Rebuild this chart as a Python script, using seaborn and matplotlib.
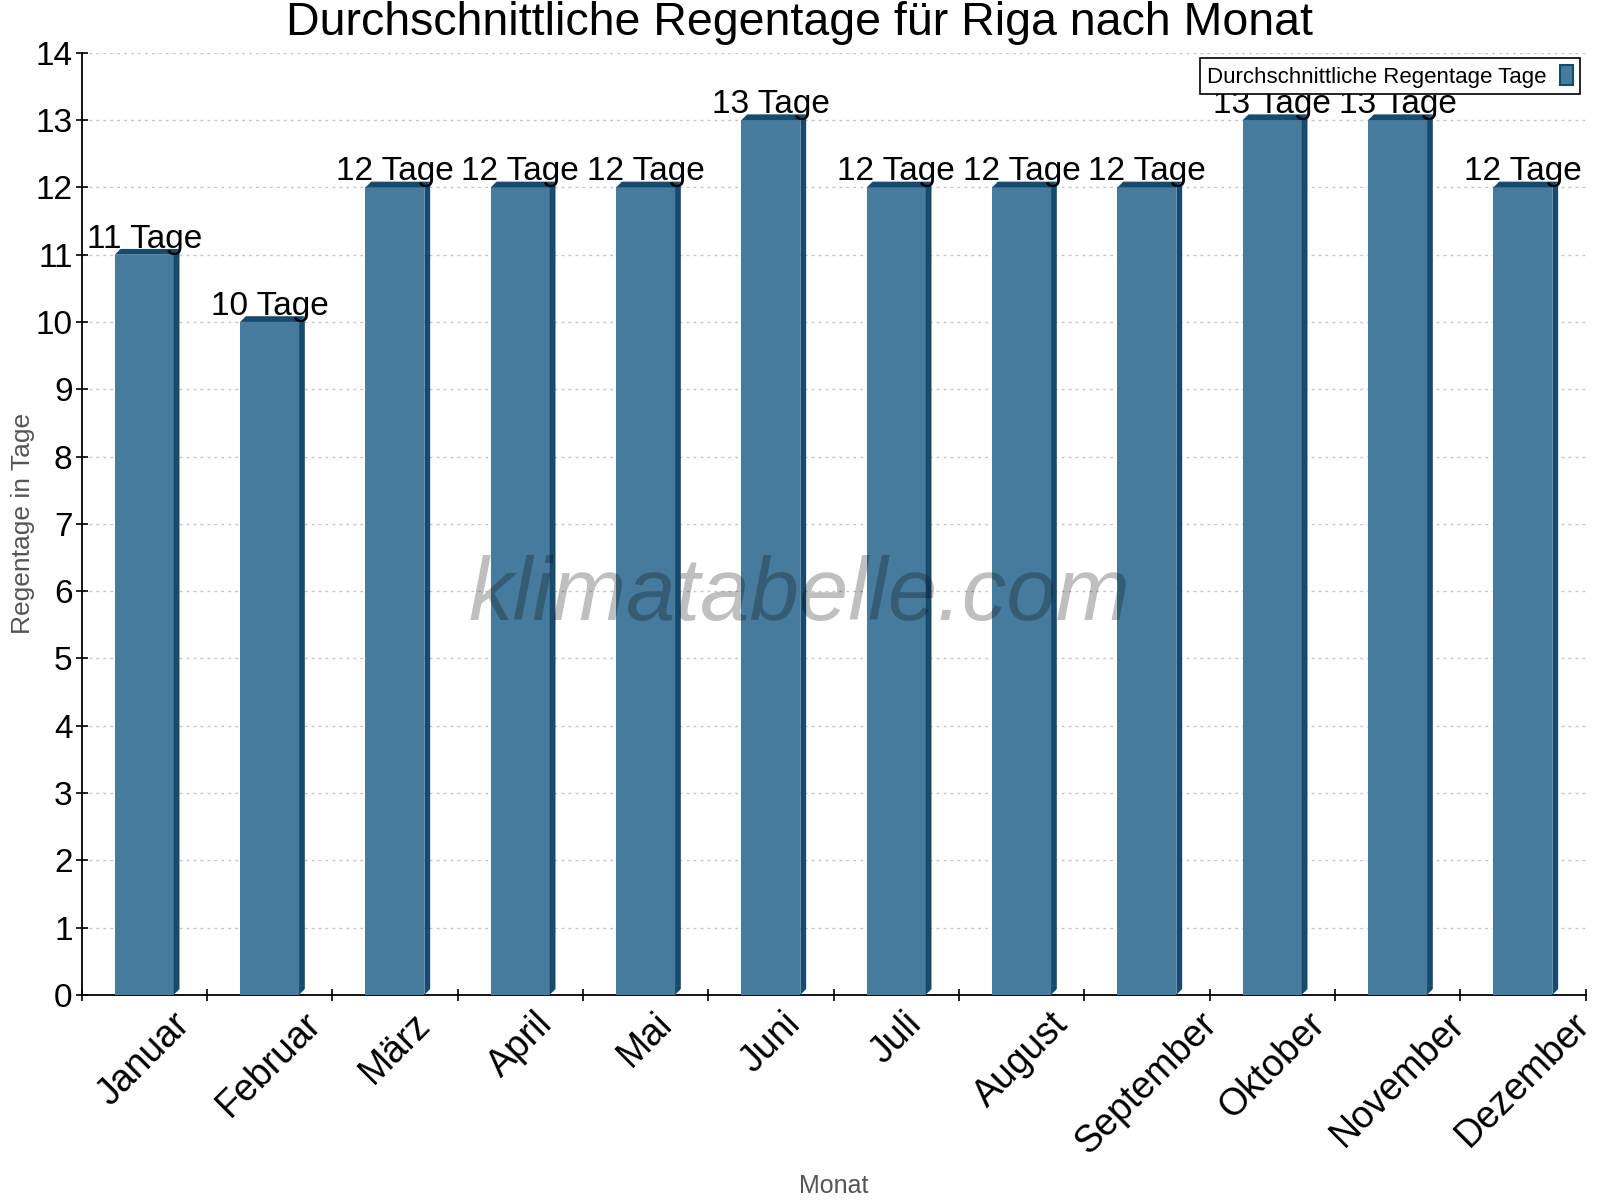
import numpy as np
import matplotlib
matplotlib.use("Agg")
import matplotlib.pyplot as plt
import seaborn as sns
from matplotlib.patches import Polygon, Patch
from matplotlib.ticker import MultipleLocator, FixedLocator

# Daten: durchschnittliche Regentage in Riga
monate = ["Januar", "Februar", "März", "April", "Mai", "Juni", "Juli",
          "August", "September", "Oktober", "November", "Dezember"]
regentage = [11, 10, 12, 12, 12, 13, 12, 12, 12, 13, 13, 12]
bar_labels = [f"{v} Tage" for v in regentage]

titel = "Durchschnittliche Regentage für Riga nach Monat"
legenden_text = "Durchschnittliche Regentage Tage"

front = "#467b9d"
dunkel = "#174b6e"

sns.set_style("white")
plt.rcParams["font.family"] = ["Liberation Sans", "DejaVu Sans"]
plt.rcParams["text.color"] = "black"
plt.rcParams["xtick.color"] = "black"
plt.rcParams["ytick.color"] = "black"

fig = plt.figure(figsize=(16, 12), dpi=100)
ax = fig.add_axes([0.051, 0.171, 0.940, 0.785])

sns.barplot(x=monate, y=regentage, color=front, saturation=1, width=0.47,
            linewidth=0, edgecolor="none", ax=ax, zorder=3)

# 3D-Effekt: Seite und Deckel aus den Balken ableiten
dx, dy = 0.046, 0.085
for p in list(ax.patches):
    x0 = p.get_x()
    x1 = x0 + p.get_width()
    h = p.get_height()
    seite = Polygon([(x1, 0), (x1 + dx, dy), (x1 + dx, h + dy), (x1, h)],
                    closed=True, facecolor=dunkel, edgecolor="none", zorder=3)
    deckel = Polygon([(x0, h), (x0 + dx, h + dy), (x1 + dx, h + dy), (x1, h)],
                     closed=True, facecolor=dunkel, edgecolor="none", zorder=3)
    ax.add_patch(seite)
    ax.add_patch(deckel)

ax.bar_label(ax.containers[0], labels=bar_labels, padding=0, fontsize=24,
             color="black", zorder=5)

ax.set_xlim(-0.5, 11.5)
ax.set_ylim(0, 14)
ax.yaxis.set_major_locator(MultipleLocator(1))
ax.xaxis.set_minor_locator(FixedLocator(np.arange(-0.5, 12, 1)))
ax.tick_params(axis="x", which="major", length=0, pad=8, labelsize=27,
               labelrotation=45, labelcolor="black")
ax.tick_params(axis="x", which="minor", length=9, direction="inout",
               width=1.2, color="black", bottom=True)
ax.tick_params(axis="y", which="major", length=9, direction="inout",
               width=1.2, color="black", labelsize=24, pad=2, left=True,
               labelcolor="black")
for lbl in ax.get_xticklabels():
    lbl.set_ha("center")

ax.grid(axis="y", color="#c4c4c4", linestyle=(0, (2, 3)), linewidth=1, zorder=0)
ax.grid(axis="x", visible=False)
ax.set_axisbelow(True)

for s in ["top", "right"]:
    ax.spines[s].set_visible(False)
for s in ["left", "bottom"]:
    ax.spines[s].set_color("black")
    ax.spines[s].set_linewidth(1.3)

ax.set_xlabel("Monat", fontsize=18, color="#555555")
ax.set_ylabel("Regentage in Tage", fontsize=19, color="#555555")
ax.xaxis.set_label_coords(0.5, -0.19)
ax.yaxis.set_label_coords(-0.031, 0.5)

ax.text(0.477, 0.422, "klimatabelle.com", transform=ax.transAxes,
        fontsize=64, style="italic", color="black", alpha=0.25,
        ha="center", va="center", zorder=6)

handle = Patch(facecolor=front, edgecolor=dunkel, linewidth=1.5)
leg = ax.legend([handle], [legenden_text], loc="upper right",
                bbox_to_anchor=(0.996, 0.994), borderaxespad=0,
                fontsize=16, markerfirst=False, fancybox=False,
                framealpha=1, edgecolor="black", handlelength=0.6,
                handleheight=1.0, borderpad=0.3, handletextpad=0.6)
leg.get_frame().set_linewidth(1.2)
leg.set_zorder(7)

fig.text(0.5, 1 - 23 / 1200, titel, fontsize=33.5, ha="center", va="center")

fig.savefig("out.png", dpi=100)
